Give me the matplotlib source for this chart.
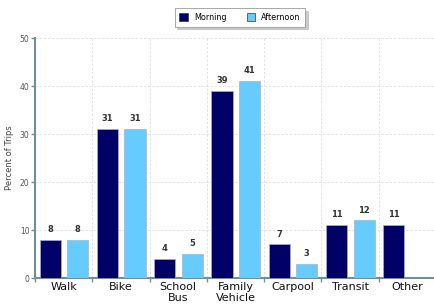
import matplotlib
matplotlib.use("Agg")
import matplotlib.pyplot as plt
import numpy as np

categories = ["Walk", "Bike", "School\nBus", "Family\nVehicle", "Carpool", "Transit", "Other"]
morning = [8, 31, 4, 39, 7, 11, 11]
afternoon = [8, 31, 5, 41, 3, 12, np.nan]
series_names = ["Morning", "Afternoon"]
colors = ["#000066", "#66ccff"]

fig = plt.figure(figsize=(4.34, 3.08), dpi=100)
ax = fig.add_axes([35/434, 30/308, 401/434, 240/308])

x = np.arange(len(categories)) + 0.5
w = 0.37
offs = [-0.235, 0.245]
handles = []
for vals, off, c, name in zip([morning, afternoon], offs, colors, series_names):
    v = np.array(vals, dtype=float)
    bars = ax.bar(x + off, np.nan_to_num(v), w, color=c, label=name, edgecolor="#b0b0b0", linewidth=0.5, zorder=3)
    for xi, vi in zip(x + off, v):
        if not np.isnan(vi):
            ax.text(xi, vi + 1.2, f"{int(vi)}", ha="center", va="bottom", fontsize=6, color="#333333", fontweight="bold")
    for b, vi in zip(bars, v):
        if np.isnan(vi):
            b.set_visible(False)

ax.set_xlim(0, len(categories))
ax.set_ylim(0, 50)
ax.set_yticks([0, 10, 20, 30, 40, 50])
ax.set_xticks(np.arange(len(categories) + 1), minor=False)
ax.set_xticklabels([""] * (len(categories) + 1))
ax.set_xticks(x, minor=True)
ax.set_xticklabels(categories, minor=True, fontsize=8, color="#111111", linespacing=1.05)
ax.tick_params(axis="x", which="minor", length=0, pad=3)
ax.tick_params(axis="x", which="major", length=3, color="#6f8fa0", width=1)
ax.tick_params(axis="y", length=3, color="#6f8fa0", width=1, labelsize=5.5, labelcolor="#555555", pad=1)
ax.grid(True, which="major", axis="both", linestyle=(0, (3, 2)), color="#dddddd", linewidth=0.6, zorder=0)
for s in ["top", "right"]:
    ax.spines[s].set_visible(False)
for s in ["left", "bottom"]:
    ax.spines[s].set_color("#6f8fa0")
    ax.spines[s].set_linewidth(1.5)
ax.set_ylabel("Percent of Trips", fontsize=6, color="#444444", labelpad=4)

leg = fig.legend(loc="upper center", bbox_to_anchor=(240/434, 1 - 4/308), ncol=2, fontsize=5.8,
                 frameon=True, fancybox=False, shadow={"color": "#999999", "alpha": 0.5},
                 handlelength=1.0, handleheight=1.0,
                 columnspacing=2.5, borderpad=0.6)
leg.get_frame().set_edgecolor("#999999")
leg.get_frame().set_linewidth(0.6)
for h in leg.legend_handles:
    h.set_edgecolor("#333333")

fig.savefig("out.png", dpi=100)
